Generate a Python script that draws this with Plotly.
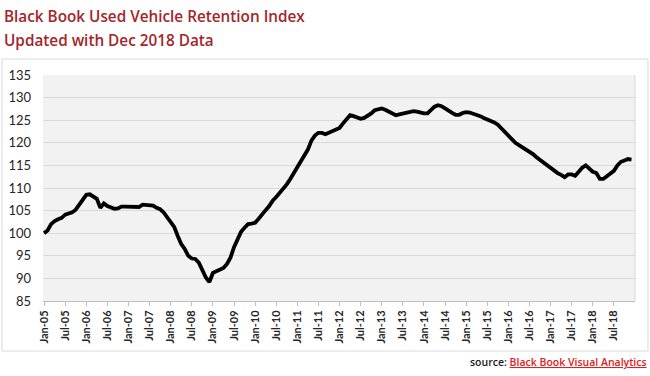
import plotly.graph_objects as go

# ---- data ----
years = list(range(2005, 2019))
month_names = ["Jan", "Feb", "Mar", "Apr", "May", "Jun", "Jul", "Aug", "Sep", "Oct", "Nov", "Dec"]
months = [f"{m}-{str(y)[2:]}" for y in years for m in month_names]

idx_2005 = [100.0, 100.6, 102.0, 102.7, 103.1, 103.4, 104.1, 104.3, 104.6, 105.2, 106.3, 107.6]
idx_2006 = [108.5, 108.6, 108.0, 107.6, 105.6, 106.6, 106.0, 105.7, 105.4, 105.5, 105.9, 105.9]
idx_2007 = [105.9, 105.9, 105.8, 105.8, 106.3, 106.3, 106.3, 106.1, 105.6, 105.3, 104.6, 103.6]
idx_2008 = [102.6, 101.4, 99.4, 97.6, 96.5, 95.0, 94.4, 94.3, 93.5, 91.8, 90.2, 89.2]
idx_2009 = [91.2, 91.6, 91.9, 92.3, 93.2, 94.6, 96.9, 98.7, 100.3, 101.2, 102.0, 102.1]
idx_2010 = [102.3, 103.2, 104.0, 105.1, 106.0, 107.2, 108.0, 108.9, 109.8, 110.8, 112.0, 113.3]
idx_2011 = [114.6, 115.7, 117.0, 118.5, 120.5, 121.6, 122.2, 122.2, 121.9, 122.3, 122.7, 123.0]
idx_2012 = [123.3, 124.3, 125.3, 126.1, 125.9, 125.5, 125.3, 125.5, 125.9, 126.5, 127.2, 127.4]
idx_2013 = [127.6, 127.3, 126.9, 126.5, 126.1, 126.3, 126.5, 126.6, 126.8, 127.0, 126.9, 126.6]
idx_2014 = [126.5, 126.5, 127.3, 128.0, 128.3, 128.1, 127.6, 127.0, 126.6, 126.2, 126.2, 126.6]
idx_2015 = [126.8, 126.7, 126.5, 126.3, 125.9, 125.5, 125.2, 124.9, 124.5, 124.0, 123.2, 122.5]
idx_2016 = [121.6, 120.8, 120.0, 119.5, 119.0, 118.6, 118.2, 117.5, 116.8, 116.2, 115.7, 115.2]
idx_2017 = [114.6, 114.0, 113.3, 112.9, 112.4, 113.0, 113.0, 112.7, 113.6, 114.5, 115.0, 114.4]
idx_2018 = [113.6, 113.3, 112.0, 112.0, 112.6, 113.0, 113.8, 115.0, 115.8, 116.1, 116.4, 116.3]

retention = (idx_2005 + idx_2006 + idx_2007 + idx_2008 + idx_2009 + idx_2010 + idx_2011
             + idx_2012 + idx_2013 + idx_2014 + idx_2015 + idx_2016 + idx_2017 + idx_2018)

tick_labels = [m for m in months if m.startswith("Jan") or m.startswith("Jul")]
y_ticks = [85, 90, 95, 100, 105, 110, 115, 120, 125, 130, 135]

title_line1 = "Black Book Used Vehicle Retention Index"
title_line2 = "Updated with Dec 2018 Data"
source_label = "source: "
source_link = "Black Book Visual Analytics"

# ---- figure ----
W, H = 650, 376
L, R, T, B = 43, 15, 75, 75
pw, ph = W - L - R, H - T - B

def px(x):
    return (x - L) / pw

def py(y):
    return (H - B - y) / ph

fig = go.Figure()
fig.add_trace(go.Scatter(
    x=months, y=retention, mode="lines",
    line=dict(color="#000000", width=3.8),
    hoverinfo="skip", showlegend=False,
))

fig.update_layout(
    width=W, height=H,
    margin=dict(l=L, r=R, t=T, b=B, autoexpand=False),
    paper_bgcolor="#ffffff",
    plot_bgcolor="#f2f2f2",
    showlegend=False,
    xaxis=dict(
        type="category",
        range=[-0.3, 168.0],
        tickmode="array",
        tickvals=tick_labels,
        ticktext=tick_labels,
        tickangle=-90,
        ticks="outside", ticklen=4, tickcolor="#bfbfbf",
        showgrid=False,
        showline=True, linecolor="#bfbfbf", linewidth=1,
        tickfont=dict(family="Lato", size=11, color="#262626", weight="bold"),
        fixedrange=True,
    ),
    yaxis=dict(
        range=[85, 135],
        tickmode="array",
        tickvals=y_ticks,
        showgrid=True, gridcolor="#d9d9d9", gridwidth=1,
        zeroline=False,
        showline=False,
        ticks="",
        ticklabelstandoff=11,
        tickfont=dict(family="Lato", size=13, color="#262626"),
        fixedrange=True,
    ),
    shapes=[
        dict(type="rect", xref="paper", yref="paper",
             x0=px(2), x1=px(648), y0=py(351), y1=py(59),
             line=dict(color="#d9d9d9", width=1), fillcolor="rgba(0,0,0,0)", layer="below"),
        dict(type="line", xref="paper", yref="paper",
             x0=1, x1=1, y0=0, y1=1,
             line=dict(color="#d9d9d9", width=1)),
    ],
    annotations=[
        dict(text=title_line1, xref="paper", yref="paper", x=px(2), y=py(28),
             xanchor="left", yanchor="bottom", showarrow=False,
             font=dict(family="Open Sans", size=15.3, color="#a3262a", weight=600)),
        dict(text=title_line2, xref="paper", yref="paper", x=px(2), y=py(52),
             xanchor="left", yanchor="bottom", showarrow=False,
             font=dict(family="Open Sans", size=15.3, color="#a3262a", weight=600)),
        dict(text=source_label + "<span style='color:#e0201c;text-decoration:underline'>"
             + source_link + "</span>",
             xref="paper", yref="paper", x=px(649), y=py(362),
             xanchor="right", yanchor="middle", showarrow=False,
             font=dict(family="Open Sans", size=10.5, color="#1a1a1a", weight=600)),
    ],
)

fig.write_html(
    "out.html",
    config={"displayModeBar": False, "staticPlot": True},
    post_script="document.body.style.margin='0px';document.body.style.overflow='hidden';",
)
